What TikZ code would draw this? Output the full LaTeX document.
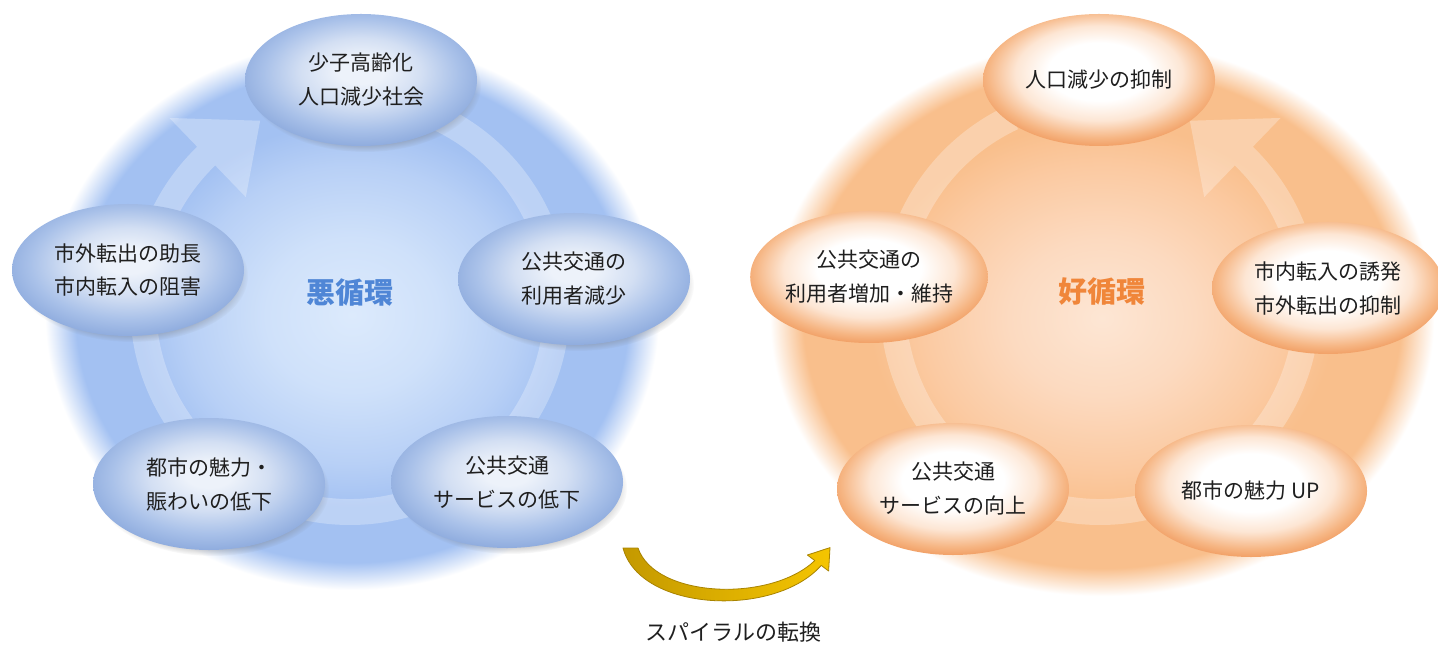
\documentclass[tikz,border=0pt]{standalone}
\usepackage{fontspec}
\newfontfamily\cjk{Noto Sans CJK JP}
\usetikzlibrary{shapes.geometric,fadings,shadows}

\definecolor{bbA}{HTML}{DCEAFC}
\definecolor{bbB}{HTML}{CFE1FA}
\definecolor{bbC}{HTML}{B8D0F6}
\definecolor{bbD}{HTML}{A3C1F2}
\definecolor{obA}{HTML}{FDE6D4}
\definecolor{obB}{HTML}{FCDAC0}
\definecolor{obC}{HTML}{FBCAA2}
\definecolor{obD}{HTML}{F9BF8C}
\definecolor{beA}{HTML}{EDF2FA}
\definecolor{beB}{HTML}{D3DFF3}
\definecolor{beC}{HTML}{A9C1E9}
\definecolor{beD}{HTML}{8AA8DC}
\definecolor{oeA}{HTML}{FFFFFF}
\definecolor{oeB}{HTML}{FDE6D4}
\definecolor{oeC}{HTML}{F6B684}
\definecolor{oeD}{HTML}{EE9050}
\definecolor{vicious}{HTML}{4F86D6}
\definecolor{virtuous}{HTML}{F0863A}
\definecolor{goldL}{HTML}{C49900}
\definecolor{goldR}{HTML}{F5C500}
\definecolor{goldE}{HTML}{A88300}

\pgfdeclareradialshading{blueblob}{\pgfpointorigin}{color(0bp)=(bbA); color(7bp)=(bbB); color(13.5bp)=(bbC); color(17.5bp)=(bbD); color(22.5bp)=(bbD); color(25bp)=(white); color(50bp)=(white)}
\pgfdeclareradialshading{orangeblob}{\pgfpointorigin}{color(0bp)=(obA); color(7bp)=(obB); color(13.5bp)=(obC); color(17.5bp)=(obD); color(22.5bp)=(obD); color(25bp)=(white); color(50bp)=(white)}
\pgfdeclareradialshading{blueball}{\pgfpoint{0bp}{4bp}}{color(0bp)=(beA); color(5bp)=(beA); color(13bp)=(beB); color(21bp)=(beC); color(28bp)=(beD); color(50bp)=(beD)}
\pgfdeclareradialshading{orangeball}{\pgfpoint{0bp}{4bp}}{color(0bp)=(oeA); color(11bp)=(oeA); color(18bp)=(oeB); color(24bp)=(oeC); color(29bp)=(oeD); color(50bp)=(oeD)}

\tikzset{
  lbl/.style={font=\cjk\fontsize{10.5}{17}\selectfont, text=black!88, align=center},
  ball/.style={ellipse, minimum width=116pt, minimum height=66pt, inner sep=0pt, lbl},
  bnode/.style={ball, shade, shading=blueball,
    drop shadow={shadow xshift=2pt, shadow yshift=-3pt, opacity=0.45, fill=black!55, path fading=circle with fuzzy edge 15 percent}},
  onode/.style={ball, shade, shading=orangeball},
  ringarrow/.style={fill=white, opacity=0.28},
  centre/.style={font=\cjk\bfseries\fontsize{14.5}{16}\selectfont},
}

\begin{document}
\begin{tikzpicture}[x=0.5pt,y=-0.5pt]
\useasboundingbox (0,0) rectangle (1438,646);

% background blobs
\shade[shading=blueblob] (45,40) rectangle (659,590);
\shade[shading=orangeblob] (770,40) rectangle (1434,596);

% ring arrows
\begin{scope}[shift={(350,305)}, yscale=-1]
  \fill[ringarrow] (134:220) arc[start angle=134, end angle=425, radius=220]
    -- (425:194) arc[start angle=425, end angle=134, radius=194]
    -- (134:150) -- (116:205) -- (134:260) -- cycle;
\end{scope}
\begin{scope}[shift={(1100,305)}, yscale=-1]
  \fill[ringarrow] (46:220) arc[start angle=46, end angle=-245, radius=220]
    -- (-245:194) arc[start angle=-245, end angle=46, radius=194]
    -- (46:150) -- (64:205) -- (46:260) -- cycle;
\end{scope}

% vicious cycle
\node[bnode] (l1) at (361,80) {少子高齢化\\人口減少社会};
\node[bnode] (l2) at (574,279) {公共交通の\\利用者減少};
\node[bnode] (l3) at (507,482) {公共交通\\サービスの低下};
\node[bnode] (l4) at (209,484) {都市の魅力・\\賑わいの低下};
\node[bnode] (l5) at (128,270) {市外転出の助長\\市内転入の阻害};
\node[centre, text=vicious] (lc) at (350,292) {悪循環};

% virtuous cycle
\node[onode] (r1) at (1099,80) {人口減少の抑制};
\node[onode] (r2) at (1328,288) {市内転入の誘発\\市外転出の抑制};
\node[onode] (r3) at (1251,491) {都市の魅力 UP};
\node[onode] (r4) at (953,489) {公共交通\\サービスの向上};
\node[onode] (r5) at (869,277) {公共交通の\\利用者増加・維持};
\node[centre, text=virtuous] (rc) at (1102,292) {好循環};

% spiral arrow
\shade[left color=goldL, right color=goldR, draw=goldE, line width=0.4pt, line join=round]
  (623,548) .. controls (640,612) and (775,618) .. (821.2,565.4)
  -- (828.6,571) -- (830,547.6) -- (807.4,555) -- (814.8,560.6)
  .. controls (770,603) and (655,598) .. (638,548) -- cycle;
\node[font=\cjk\fontsize{11}{13}\selectfont, text=black!88] (sp) at (733,632) {スパイラルの転換};
\end{tikzpicture}
\end{document}
